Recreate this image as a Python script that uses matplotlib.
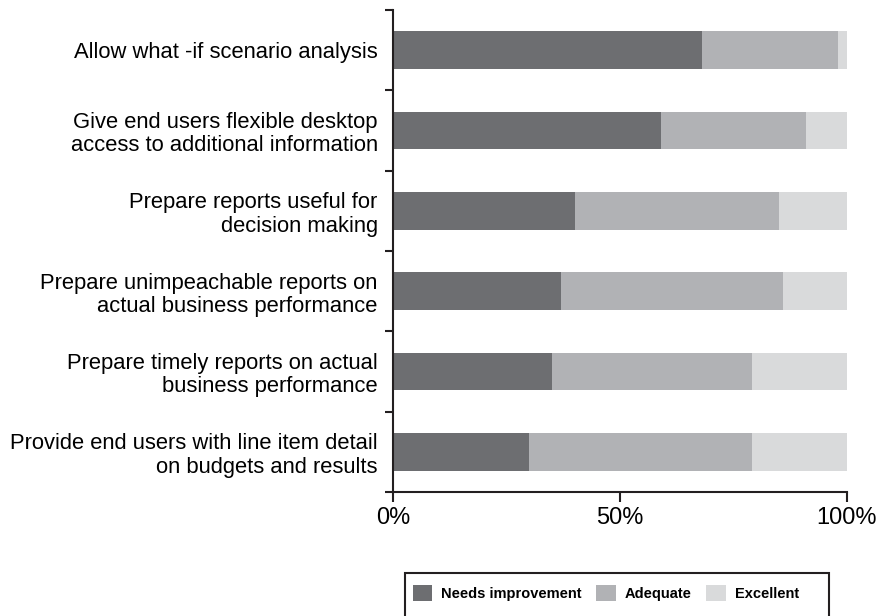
import numpy as np
import matplotlib
matplotlib.use("Agg")
import matplotlib.pyplot as plt
import matplotlib.patches as patches

# data (percent of respondents), top to bottom
labels = [
    "Allow what -if scenario analysis",
    "Give end users flexible desktop\naccess to additional information",
    "Prepare reports useful for\ndecision making",
    "Prepare unimpeachable reports on\nactual business performance",
    "Prepare timely reports on actual\nbusiness performance",
    "Provide end users with line item detail\non budgets and results",
]
needs = [68, 59, 40, 37, 35, 30]
adequate = [30, 32, 45, 49, 44, 49]
excellent = [2, 9, 15, 14, 21, 21]

series_names = ["Needs improvement", "Adequate", "Excellent"]
colors = ["#6d6e71", "#b1b2b5", "#d9dadb"]
ink = "#231f20"

plt.rcParams["font.family"] = ["Liberation Sans", "DejaVu Sans"]

fig = plt.figure(figsize=(8.81, 6.16), dpi=100)
ax = fig.add_axes([393 / 881, 1 - 492 / 616, 454 / 881, 482 / 616])

y = np.arange(len(labels))
left = np.zeros(len(labels))
for vals, name, col in zip([needs, adequate, excellent], series_names, colors):
    ax.barh(y, vals, left=left, height=0.47, color=col, label=name, linewidth=0)
    left = left + np.array(vals)

ax.set_xlim(0, 100)
ax.set_ylim(len(labels) - 0.5, -0.5)

for side in ["top", "right"]:
    ax.spines[side].set_visible(False)
for side in ["left", "bottom"]:
    ax.spines[side].set_linewidth(1.5)
    ax.spines[side].set_color(ink)

ax.set_xticks([0, 50, 100])
ax.set_xticklabels(["0%", "50%", "100%"], fontsize=17)
ax.tick_params(axis="x", length=7, width=1.5, color=ink, pad=4)

# boundary ticks on y axis, labels centred on bars
ax.set_yticks(np.arange(len(labels) + 1) - 0.5)
ax.set_yticklabels([])
ax.set_yticks(y, minor=True)
ax.set_yticklabels(labels, minor=True, fontsize=15.8, linespacing=1.15)
ax.tick_params(axis="y", which="major", length=6, width=1.5, color=ink)
ax.tick_params(axis="y", which="minor", length=0, pad=11)

# legend with a separate frame box
handles, names = ax.get_legend_handles_labels()
fig.legend(handles, names, loc="center left",
           bbox_to_anchor=(401 / 881, 1 - 593 / 616),
           ncol=3, frameon=False,
           prop={"weight": "bold", "size": 10.5},
           handlelength=1.35, handleheight=1.35, handletextpad=0.6,
           columnspacing=1.0, borderpad=0.3)
fig.add_artist(patches.Rectangle((405 / 881, 1 - 640 / 616), 424 / 881, 67 / 616,
                                 transform=fig.transFigure, fill=False,
                                 edgecolor=ink, linewidth=1.5))

plt.savefig("out.png", dpi=100)
